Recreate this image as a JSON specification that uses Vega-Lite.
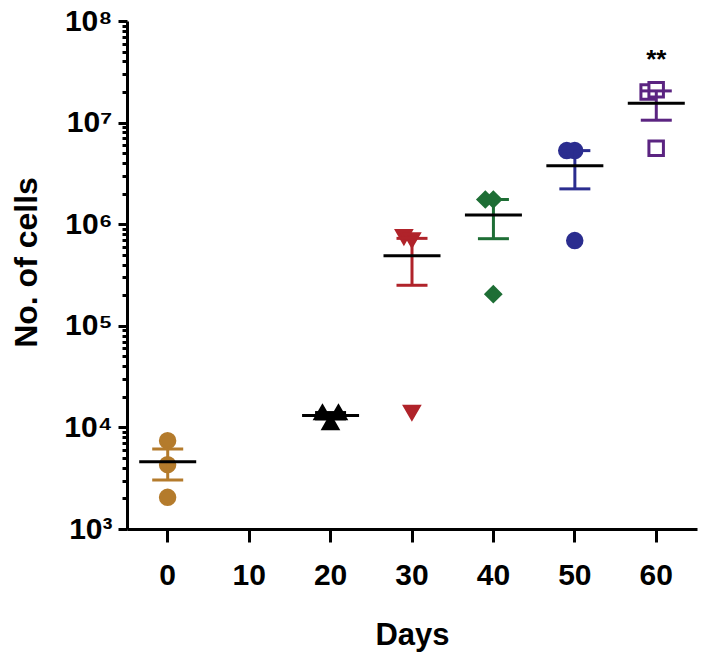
{
  "$schema": "https://vega.github.io/schema/vega-lite/v6.json",
  "width": 570,
  "height": 508,
  "autosize": {"type": "none"},
  "padding": {"left": 127, "top": 21, "right": 23, "bottom": 136},
  "background": "white",
  "config": {
    "view": {"stroke": null},
    "font": "Liberation Sans",
    "axis": {
      "domainColor": "black",
      "domainWidth": 3,
      "tickColor": "black",
      "tickWidth": 3,
      "labelFont": "Liberation Sans",
      "labelFontWeight": "bold",
      "labelColor": "black",
      "titleFont": "Liberation Sans",
      "titleFontWeight": "bold",
      "titleColor": "black",
      "grid": false
    }
  },
  "data": {
    "values": [
      {"day": 0, "rep": "C", "cells": 7400},
      {"day": 0, "rep": "C", "cells": 4300},
      {"day": 0, "rep": "C", "cells": 2050},
      {"day": 20, "rep": "L", "cells": 14000},
      {"day": 20, "rep": "R", "cells": 14000},
      {"day": 20, "rep": "C", "cells": 11200},
      {"day": 30, "rep": "L", "cells": 750000},
      {"day": 30, "rep": "C", "cells": 700000},
      {"day": 30, "rep": "C", "cells": 14000},
      {"day": 40, "rep": "L", "cells": 1750000},
      {"day": 40, "rep": "C", "cells": 1750000},
      {"day": 40, "rep": "C", "cells": 205000},
      {"day": 50, "rep": "L", "cells": 5300000},
      {"day": 50, "rep": "C", "cells": 5300000},
      {"day": 50, "rep": "C", "cells": 690000},
      {"day": 60, "rep": "L", "cells": 20000000, "sig": "**"},
      {"day": 60, "rep": "C", "cells": 21000000, "sig": "**"},
      {"day": 60, "rep": "C", "cells": 5600000, "sig": "**"}
    ]
  },
  "encoding": {
    "x": {
      "field": "day",
      "type": "ordinal",
      "scale": {"type": "band", "domain": [0, 10, 20, 30, 40, 50, 60], "paddingInner": 0, "paddingOuter": 0},
      "axis": {
        "labelAngle": 0,
        "labelFontSize": 30,
        "tickSize": 13,
        "labelPadding": 18,
        "title": "Days",
        "titleFontSize": 31,
        "titlePadding": 30
      }
    }
  },
  "layer": [
    {
      "mark": {"type": "point", "filled": true, "strokeWidth": 3, "opacity": 1, "size": 210},
      "encoding": {
        "y": {
          "field": "cells",
          "type": "quantitative",
          "title": "No. of cells",
          "scale": {"type": "log", "domain": [1000, 100000000], "nice": false},
          "axis": {
            "values": [1000, 2000, 3000, 4000, 5000, 6000, 7000, 8000, 9000, 10000, 20000, 30000, 40000, 50000, 60000, 70000, 80000, 90000, 100000, 200000, 300000, 400000, 500000, 600000, 700000, 800000, 900000, 1000000, 2000000, 3000000, 4000000, 5000000, 6000000, 7000000, 8000000, 9000000, 10000000, 20000000, 30000000, 40000000, 50000000, 60000000, 70000000, 80000000, 90000000, 100000000],
            "labelExpr": "indexof([1000,10000,100000,1000000,10000000,100000000], datum.value) >= 0 ? '10' + ['³','⁴','⁵','⁶','⁷','⁸'][indexof([1000,10000,100000,1000000,10000000,100000000], datum.value)] : ''",
            "tickSize": {"condition": {"test": "indexof([1000,10000,100000,1000000,10000000,100000000], datum.value) >= 0", "value": 9}, "value": 5},
            "labelFontSize": 30,
            "labelPadding": 6,
            "labelOverlap": false,
            "titleFontSize": 32,
            "titlePadding": 20,
            "titleY": 241
          }
        },
        "xOffset": {
          "field": "rep",
          "type": "nominal",
          "scale": {"type": "point", "domain": ["L", "C", "R"], "range": [28.6, 52.6]}
        },
        "shape": {
          "field": "day",
          "type": "ordinal",
          "scale": {"domain": [0, 20, 30, 40, 50, 60], "range": ["circle", "triangle-up", "triangle-down", "diamond", "circle", "square"]},
          "legend": null
        },
        "fill": {
          "field": "day",
          "type": "ordinal",
          "scale": {"domain": [0, 20, 30, 40, 50, 60], "range": ["#B47B2C", "#000000", "#B0232A", "#1E6E35", "#2B2D8F", "#FFFFFF"]},
          "legend": null
        },
        "stroke": {
          "field": "day",
          "type": "ordinal",
          "scale": {"domain": [0, 20, 30, 40, 50, 60], "range": ["#B47B2C", "#000000", "#B0232A", "#1E6E35", "#2B2D8F", "#5B2481"]},
          "legend": null
        }
      }
    },
    {
      "mark": {"type": "errorbar", "extent": "stderr", "thickness": 3, "opacity": 1, "ticks": {"size": 31, "thickness": 3, "opacity": 1}},
      "encoding": {
        "y": {"field": "cells", "type": "quantitative", "title": "No. of cells"},
        "color": {
          "field": "day",
          "type": "ordinal",
          "scale": {"domain": [0, 20, 30, 40, 50, 60], "range": ["#B47B2C", "#000000", "#B0232A", "#1E6E35", "#2B2D8F", "#5B2481"]},
          "legend": null
        }
      }
    },
    {
      "mark": {"type": "tick", "size": 57, "thickness": 3, "color": "black", "opacity": 1},
      "encoding": {
        "y": {"field": "cells", "aggregate": "mean", "type": "quantitative", "title": "No. of cells"}
      }
    },
    {
      "transform": [{"filter": "datum.sig"}],
      "mark": {"type": "text", "dy": -30, "fontSize": 26, "fontWeight": "bold", "color": "black"},
      "encoding": {
        "y": {"field": "cells", "aggregate": "max", "type": "quantitative", "title": "No. of cells"},
        "text": {"field": "sig"}
      }
    }
  ]
}
